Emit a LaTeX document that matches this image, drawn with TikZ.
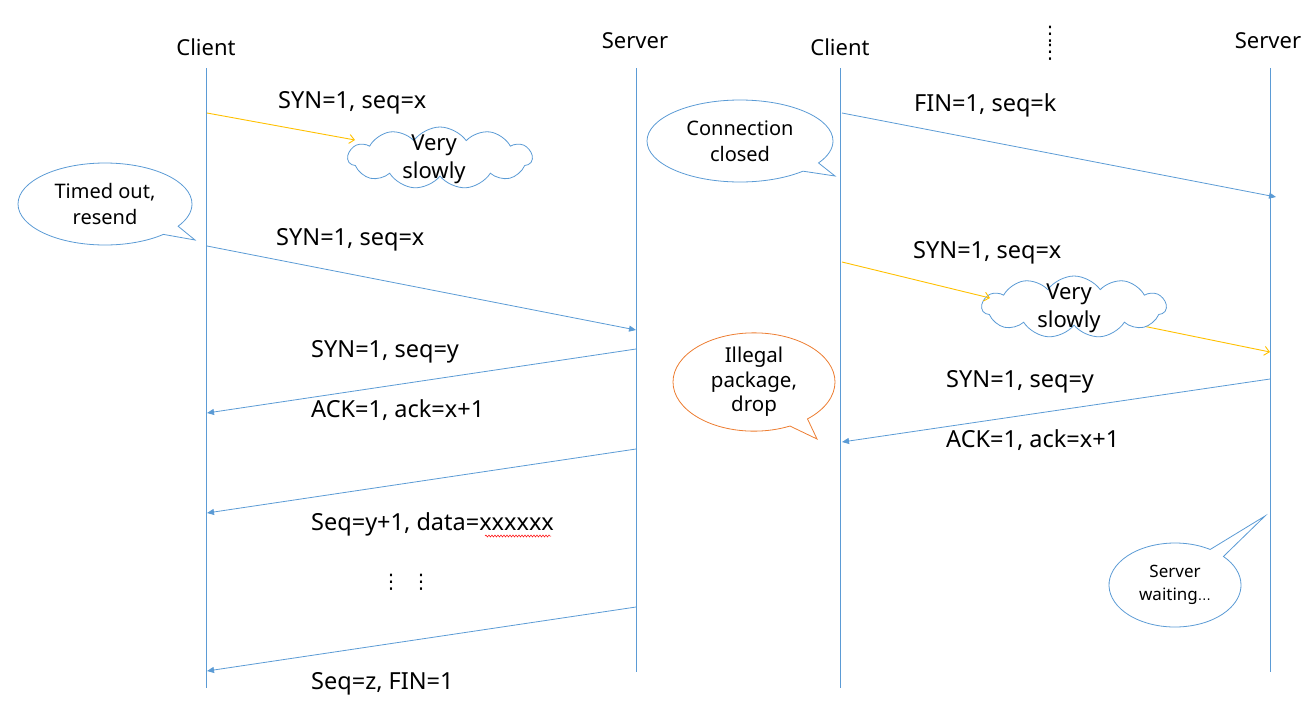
\documentclass[tikz,border=0pt]{standalone}
\usepackage{fontspec}
\setmainfont{Noto Sans}
\newfontfamily\symfont{DejaVu Sans}
\usetikzlibrary{shapes.callouts,shapes.symbols,arrows.meta,decorations.pathmorphing}
\definecolor{lineblue}{HTML}{5B9BD5}
\definecolor{slowyellow}{HTML}{FFC000}
\definecolor{droporange}{HTML}{ED7D31}
\begin{document}
\begin{tikzpicture}[x=1pt,y=-1pt,
  lifeline/.style={draw=lineblue, line width=1pt},
  msg/.style={draw=lineblue, line width=0.8pt, -{Triangle[length=7pt,width=6pt]}},
  slow/.style={draw=slowyellow, line width=0.9pt, -{Straight Barb[length=5pt,width=9pt]}},
  lbl/.style={font=\fontsize{23.5}{28}\selectfont, inner sep=0pt, anchor=west},
  head/.style={font=\fontsize{22}{26}\selectfont, inner sep=0pt},
  bubble/.style={ellipse callout, draw=lineblue, line width=0.8pt, fill=white,
    align=center, inner sep=0pt, font=\fontsize{20}{26}\selectfont},
  puff/.style={cloud, cloud puffs=11, cloud puff arc=110, draw=lineblue,
    line width=0.8pt, fill=white, inner sep=0pt,
    minimum width=184pt, minimum height=62pt},
  puffText/.style={align=center, inner sep=0pt, font=\fontsize{22}{28}\selectfont},
  dots/.style={font=\symfont\fontsize{20}{20}\selectfont, inner sep=0pt}
]
\useasboundingbox (0,0) rectangle (1308,718);

% column headings
\node[head] (hc1) at (206,47) {Client};
\node[head] (hs1) at (635,41) {Server};
\node[head] (hc2) at (840,47) {Client};
\node[head] (hs2) at (1268,41) {Server};
\node[dots] (hdotsA) at (1050,34) {⋮};
\node[dots] (hdotsB) at (1050,52) {⋮};

% lifelines
\coordinate (c1t) at (206,68);  \coordinate (c1b) at (206,688);
\coordinate (s1t) at (636,68);  \coordinate (s1b) at (636,672);
\coordinate (c2t) at (840,68);  \coordinate (c2b) at (840,688);
\coordinate (s2t) at (1270,68); \coordinate (s2b) at (1270,672);
\draw[lifeline] (c1t) -- (c1b);
\draw[lifeline] (s1t) -- (s1b);
\draw[lifeline] (c2t) -- (c2b);
\draw[lifeline] (s2t) -- (s2b);

% ---- left exchange ----
\node[puff] (cloudA) at (440,158) {};
\node[puffText] (cloudAtext) at (434,159) {Very\\slowly};
\coordinate (a1) at (207,113); \coordinate (a1e) at (355,140);
\draw[slow] (a1) -- (a1e);
\node[lbl] (l1) at (278,103) {SYN=1, seq=x};

\coordinate (tpA) at (195,240);
\node[bubble, minimum width=174pt, minimum height=82pt,
  callout absolute pointer={(tpA)}] (timeout) at (105,204) {Timed out,\\resend};

\coordinate (a2) at (207,246); \coordinate (a2e) at (636,330);
\draw[msg] (a2) -- (a2e);
\node[lbl] (l2) at (276,240) {SYN=1, seq=x};

\coordinate (a3) at (636,349); \coordinate (a3e) at (207,413);
\draw[msg] (a3) -- (a3e);
\node[lbl] (l3) at (311,352) {SYN=1, seq=y};
\node[lbl] (l4) at (311,410) {ACK=1, ack=x+1};

\coordinate (a4) at (636,449); \coordinate (a4e) at (207,513);
\draw[msg] (a4) -- (a4e);
\node[lbl] (l5) at (311,524) {Seq=y+1, data=xxxxxx};
\coordinate (wv1) at (485,536); \coordinate (wv2) at (551,536);
\draw[red, line width=0.5pt, decorate,
  decoration={snake, amplitude=1pt, segment length=3pt}] (wv1) -- (wv2);
\node[dots] (d1) at (391,582) {⋮};
\node[dots] (d2) at (421,582) {⋮};

\coordinate (a5) at (636,607); \coordinate (a5e) at (207,671);
\draw[msg] (a5) -- (a5e);
\node[lbl] (l6) at (311,684) {Seq=z, FIN=1};

% ---- right exchange ----
\coordinate (tpB) at (835,176);
\node[bubble, minimum width=186pt, minimum height=82pt,
  callout absolute pointer={(tpB)}] (closed) at (740,141) {Connection\\closed};

\coordinate (b1) at (842,113); \coordinate (b1e) at (1276,197);
\draw[msg] (b1) -- (b1e);
\node[lbl] (m1) at (914,105) {FIN=1, seq=k};

\coordinate (b3) at (1138,325); \coordinate (b3e) at (1270,352);
\draw[slow] (b3) -- (b3e);
\node[puff] (cloudB) at (1074,307) {};
\node[puffText] (cloudBtext) at (1069,308) {Very\\slowly};
\coordinate (b2) at (842,262); \coordinate (b2e) at (990,298);
\draw[slow] (b2) -- (b2e);
\node[lbl] (m2) at (913,253) {SYN=1, seq=x};

\coordinate (tpC) at (817,439);
\node[bubble, draw=droporange, minimum width=162pt, minimum height=76pt,
  font=\fontsize{20.5}{24.5}\selectfont,
  callout absolute pointer={(tpC)}] (illegal) at (754,382) {Illegal\\package,\\drop};

\coordinate (b4) at (1270,379); \coordinate (b4e) at (842,442);
\draw[msg] (b4) -- (b4e);
\node[lbl] (m3) at (946,382) {SYN=1, seq=y};
\node[lbl] (m4) at (946,440) {ACK=1, ack=x+1};

\coordinate (tpD) at (1265,516);
\node[bubble, minimum width=132pt, minimum height=84pt,
  font=\fontsize{17}{23}\selectfont,
  callout absolute pointer={(tpD)}] (waiting) at (1175,585) {Server\\waiting\symfont\fontsize{13}{23}\selectfont…};
\end{tikzpicture}
\end{document}
